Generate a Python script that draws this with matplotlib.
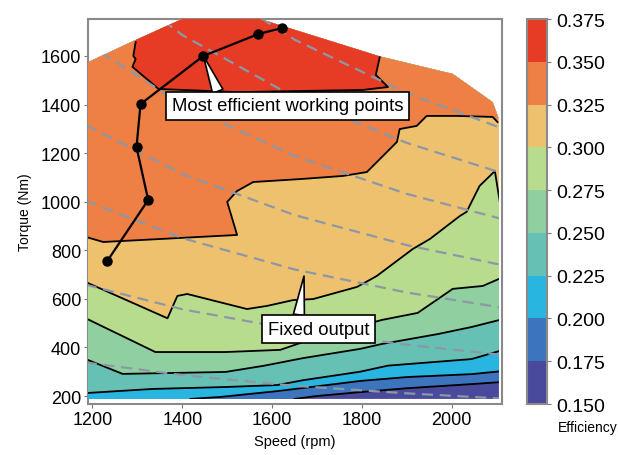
import matplotlib.pyplot as plt
from matplotlib.patches import Polygon
from matplotlib.colors import ListedColormap, BoundaryNorm
from matplotlib.cm import ScalarMappable

plt.rcParams['font.family'] = ['Liberation Sans', 'DejaVu Sans']

levels = [0.150, 0.175, 0.200, 0.225, 0.250, 0.275, 0.300, 0.325, 0.350, 0.375]
band_colors = ['#4a4a9c', '#3d74be', '#28b6e0', '#66c1b4', '#8fcfa0',
               '#b7dc8e', '#eec16f', '#ee7f45', '#e63b24']

# max torque envelope of the map
env_speed = [1185, 2105, 2105, 2091, 2002, 1840, 1620, 1560, 1410, 1367, 1280, 1185]
env_torque = [188, 188, 1340, 1410, 1526, 1598, 1725, 1760, 1760, 1725, 1652, 1570]

# iso-efficiency boundaries (speed rpm, torque Nm)
b175_speed = [1650, 1700, 1796, 1900, 2044, 2115]
b175_torque = [188, 200, 216, 232, 249, 258]
b200_speed = [1418, 1484, 1611, 1700, 1796, 1900, 2044, 2115]
b200_torque = [188, 196, 220, 240, 262, 278, 290, 303]
b225_speed = [1185, 1333, 1496, 1611, 1669, 1796, 1858, 2044, 2115]
b225_torque = [212, 229, 237, 245, 265, 300, 325, 352, 390]
b250_speed = [1185, 1267, 1496, 1580, 1669, 1796, 1844, 1969, 2044, 2115]
b250_torque = [352, 291, 299, 324, 356, 394, 414, 455, 484, 517]
b275_speed = [1185, 1340, 1496, 1618, 1669, 1844, 1924, 1969, 2002, 2069, 2115]
b275_torque = [520, 381, 381, 390, 422, 513, 542, 599, 641, 653, 690]
b300_speed = [1185, 1367, 1389, 1411, 1544, 1589, 1647, 1691, 1789, 1833, 1913,
              1951, 2018, 2033, 2062, 2096, 2107]
b300_torque = [669, 520, 612, 620, 558, 571, 595, 599, 649, 694, 805,
               846, 941, 958, 1065, 1126, 999]
b325_speed = [1185, 1224, 1522, 1500, 1522, 1558, 1662, 1758, 1811, 1878, 1884,
              1922, 1944, 2011, 2091, 2102]
b325_torque = [855, 834, 863, 999, 1044, 1081, 1093, 1106, 1122, 1246, 1299,
               1312, 1353, 1353, 1349, 1328]
# top efficiency island (0.350 - 0.375)
red_speed = [1296, 1291, 1296, 1289, 1347, 1522, 1802, 1858, 1831, 1840, 1840, 1296]
red_torque = [1657, 1600, 1587, 1555, 1464, 1451, 1460, 1472, 1522, 1598, 1800, 1800]

# most efficient working points
wp_speed = [1233, 1324, 1298, 1307, 1447, 1569, 1622]
wp_torque = [756, 1007, 1225, 1402, 1600, 1690, 1715]

# constant output curves
dash_speed = [1185, 1400, 1650, 1900, 2115]
dash_torque = [
    [2320, 1964, 1667, 1447, 1300],
    [1990, 1686, 1430, 1242, 1116],
    [1654, 1400, 1188, 1032, 927],
    [1316, 1114, 945, 821, 738],
    [1004, 850, 721, 626, 563],
    [658, 557, 473, 411, 369],
    [338, 286, 242, 211, 189],
]

boundaries = [(b175_speed, b175_torque), (b200_speed, b200_torque),
              (b225_speed, b225_torque), (b250_speed, b250_torque),
              (b275_speed, b275_torque), (b300_speed, b300_torque),
              (b325_speed, b325_torque)]

fig = plt.figure(figsize=(6.18, 4.56), dpi=100)
ax = fig.add_axes([0.1424, 0.1118, 0.670, 0.8443])
cax = fig.add_axes([0.8528, 0.1118, 0.0324, 0.8443])

env = Polygon(list(zip(env_speed, env_torque)), closed=True,
              fc=band_colors[0], ec='none', zorder=1)
ax.add_patch(env)

for i, (bs, bt) in enumerate(boundaries):
    pts = list(zip(bs, bt))
    if bt[0] <= 188:
        pts = [(1185, 150)] + pts
    pts += [(2120, 1900), (1180, 1900)]
    p = Polygon(pts, closed=True, fc=band_colors[i + 1], ec='none', zorder=2 + i)
    ax.add_patch(p)
    p.set_clip_path(env)

red = Polygon(list(zip(red_speed, red_torque)), closed=True,
              fc=band_colors[8], ec='none', zorder=10)
ax.add_patch(red)
red.set_clip_path(env)

for bs, bt in boundaries:
    ln, = ax.plot(bs, bt, color='black', lw=1.3, zorder=11)
    ln.set_clip_path(env)
ln, = ax.plot(red_speed[:10], red_torque[:10], color='black', lw=1.3, zorder=11)
ln.set_clip_path(env)

for dt in dash_torque:
    ln, = ax.plot(dash_speed, dt, color='#8c98a6', lw=1.6, ls=(0, (5, 3)), zorder=12)
    ln.set_clip_path(env)

ax.plot(wp_speed, wp_torque, color='black', lw=1.6, marker='o', ms=6.5, zorder=14)

ax.annotate('Most efficient working points', xy=(wp_speed[4], wp_torque[4]),
            xytext=(1634, 1394), ha='center', va='center', fontsize=13.3, zorder=15,
            bbox=dict(boxstyle='square,pad=0.3', fc='white', ec='black', lw=1.2),
            arrowprops=dict(arrowstyle='wedge,tail_width=0.6,shrink_factor=0.5',
                            fc='white', ec='black', lw=1.2, relpos=(0.21, 1.0),
                            shrinkA=0, shrinkB=0))
ax.annotate('Fixed output', xy=(1671, 694), xytext=(1703, 474),
            ha='center', va='center', fontsize=13.3, zorder=15,
            bbox=dict(boxstyle='square,pad=0.3', fc='white', ec='black', lw=1.2),
            arrowprops=dict(arrowstyle='wedge,tail_width=0.6,shrink_factor=0.5',
                            fc='white', ec='black', lw=1.2, relpos=(0.3, 1.0),
                            shrinkA=0, shrinkB=0))

ax.set_xlim(1190, 2112)
ax.set_ylim(167, 1752)
ax.set_xticks([1200, 1400, 1600, 1800, 2000])
ax.set_yticks([200, 400, 600, 800, 1000, 1200, 1400, 1600])
ax.tick_params(labelsize=13, length=3, color='#777777', pad=2)
for s in ax.spines.values():
    s.set_color('#8a8a8a')
    s.set_linewidth(1.5)
ax.set_xlabel('Speed (rpm)', fontsize=10.5, labelpad=4)
ax.set_ylabel('Torque (Nm)', fontsize=10, labelpad=6)

sm = ScalarMappable(norm=BoundaryNorm(levels, len(band_colors)),
                    cmap=ListedColormap(band_colors))
cb = fig.colorbar(sm, cax=cax, ticks=levels, format='%.3f')
cb.outline.set_edgecolor('#8a8a8a')
cb.outline.set_linewidth(1.5)
cax.tick_params(labelsize=14, length=3, color='#777777')
fig.text(0.951, 0.062, 'Efficiency', ha='center', va='center', fontsize=10)

fig.savefig('out.png', dpi=100)
